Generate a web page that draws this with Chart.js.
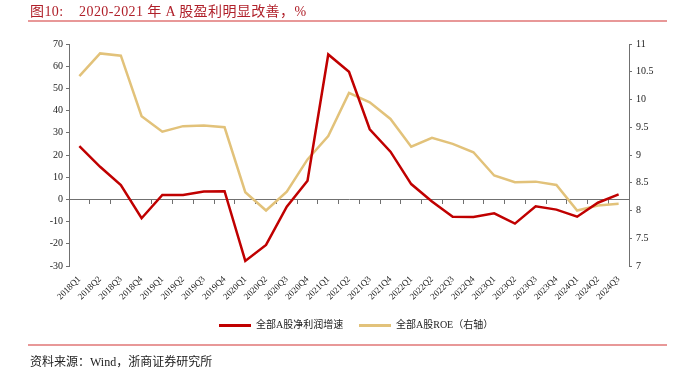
<!DOCTYPE html>
<html>
<head>
<meta charset="utf-8">
<script src="https://cdn.jsdelivr.net/npm/chart.js@4.4.0/dist/chart.umd.min.js"></script>
<style>
  body { margin: 0; background: #fff; }
  #wrap { position: relative; width: 680px; height: 374px; overflow: hidden; }
  #chart { position: absolute; left: 0; top: 0; }
  .title { position: absolute; left: 30px; top: 0px; font: 14px "Liberation Serif", "Noto Sans CJK SC", serif; color: #B0202A; white-space: pre; letter-spacing: 0.4px; }
  .rule { position: absolute; left: 28px; width: 639px; height: 2px; background: #E89898; }
  .source { position: absolute; left: 30px; top: 352px; font: 12px "Liberation Serif", "Noto Sans CJK SC", serif; color: #222; }
  .legend { position: absolute; top: 316px; font: 10px "Liberation Serif", "Noto Sans CJK SC", serif; color: #222; }
  .legend span.sw { display: inline-block; width: 32px; height: 3px; vertical-align: middle; margin-right: 5px; }
</style>
</head>
<body>
<div id="wrap">
  <canvas id="chart" width="680" height="374"></canvas>
  <div class="title">图10:    2020-2021 年 A 股盈利明显改善，%</div>
  <div class="rule" style="top:20px"></div>
  <div class="legend" style="left:219px"><span class="sw" style="background:#C00000"></span>全部A股净利润增速</div>
  <div class="legend" style="left:359px"><span class="sw" style="background:#E2C27A"></span>全部A股ROE（右轴）</div>
  <div class="rule" style="top:344px"></div>
  <div class="source">资料来源：Wind，浙商证券研究所</div>
</div>
<script>
// 数据
const quarters = ['2018Q1','2018Q2','2018Q3','2018Q4','2019Q1','2019Q2','2019Q3','2019Q4',
  '2020Q1','2020Q2','2020Q3','2020Q4','2021Q1','2021Q2','2021Q3','2021Q4',
  '2022Q1','2022Q2','2022Q3','2022Q4','2023Q1','2023Q2','2023Q3','2023Q4',
  '2024Q1','2024Q2','2024Q3'];
const lucroCrescimento = [24.0, 14.7, 6.5, -8.5, 2.0, 2.0, 3.6, 3.7,
  -27.7, -20.5, -3.3, 8.4, 65.3, 57.5, 31.6, 21.5,
  6.9, -0.9, -7.8, -7.9, -6.3, -10.9, -3.1, -4.6,
  -7.8, -1.5, 2.3];
const roe = [10.42, 10.83, 10.79, 9.70, 9.42, 9.52, 9.53, 9.50,
  8.33, 8.00, 8.34, 8.92, 9.34, 10.12, 9.95, 9.65,
  9.15, 9.31, 9.20, 9.05, 8.63, 8.51, 8.52, 8.46,
  8.00, 8.09, 8.12];
const leftTicks = { min: -30, max: 70, step: 10 };
const rightTicks = { min: 7, max: 11, step: 0.5 };

const serif = '"Liberation Serif", "Times New Roman", serif';
const axisGray = '#707070';

const ctx = document.getElementById('chart').getContext('2d');
new Chart(ctx, {
    type: 'line',
    data: {
        labels: quarters,
        datasets: [{
            label: '全部A股净利润增速',
            data: lucroCrescimento,
            borderColor: '#C00000',
            borderWidth: 2.5,
            pointRadius: 0,
            tension: 0,
            yAxisID: 'y',
            xAxisID: 'x'
        }, {
            label: '全部A股ROE（右轴）',
            data: roe,
            borderColor: '#E2C27A',
            borderWidth: 2.5,
            pointRadius: 0,
            tension: 0,
            yAxisID: 'y1',
            xAxisID: 'x'
        }]
    },
    options: {
        responsive: false,
        animation: false,
        layout: { padding: { top: 44, left: 0, right: 0, bottom: 68 } },
        plugins: { legend: { display: false }, tooltip: { enabled: false } },
        scales: {
            x: {
                type: 'category',
                position: 'bottom',
                offset: true,
                border: { display: false },
                grid: { display: false },
                ticks: {
                    autoSkip: false, minRotation: 45, maxRotation: 45, padding: 0,
                    color: '#222', font: { family: serif, size: 9 }
                },
                afterFit: function(scale) { scale.height = 40; }
            },
            x2: {
                type: 'category',
                labels: quarters,
                position: { y: 0 },
                offset: true,
                border: { display: true, color: axisGray, width: 1 },
                grid: { drawOnChartArea: false, offset: true, tickLength: 4, color: axisGray },
                ticks: { display: false }
            },
            y: {
                position: 'left',
                min: leftTicks.min,
                max: leftTicks.max,
                border: { color: axisGray, width: 1 },
                grid: { drawOnChartArea: false, tickLength: 3, color: axisGray },
                ticks: { stepSize: leftTicks.step, padding: 3, color: '#222', font: { family: serif, size: 10 } },
                afterFit: function(scale) { scale.width = 69; }
            },
            y1: {
                position: 'right',
                min: rightTicks.min,
                max: rightTicks.max,
                border: { color: axisGray, width: 1 },
                grid: { drawOnChartArea: false, tickLength: 3, color: axisGray },
                ticks: {
                    stepSize: rightTicks.step, padding: 4, color: '#222', font: { family: serif, size: 10 },
                    callback: function(value) { return String(Math.round(value * 10) / 10); }
                },
                afterFit: function(scale) { scale.width = 51; }
            }
        }
    }
});
</script>
</body>
</html>
